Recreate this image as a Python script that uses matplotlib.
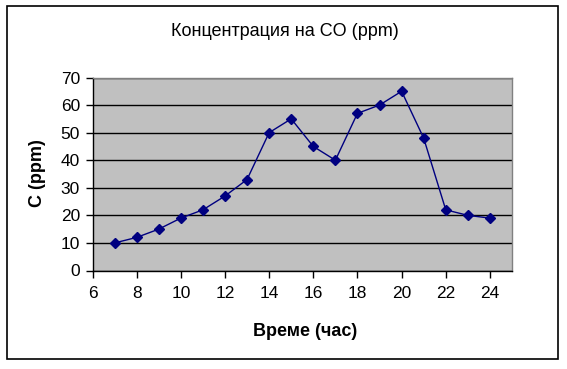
import matplotlib
matplotlib.use("Agg")
import matplotlib.pyplot as plt
from matplotlib.patches import Rectangle

hours = [7, 8, 9, 10, 11, 12, 13, 14, 15, 16, 17, 18, 19, 20, 21, 22, 23, 24]
co_ppm = [10, 12, 15, 19, 22, 27, 33, 50, 55, 45, 40, 57, 60, 65, 48, 22, 20, 19]
x_ticks = [6, 8, 10, 12, 14, 16, 18, 20, 22, 24]
y_ticks = [0, 10, 20, 30, 40, 50, 60, 70]

plt.rcParams['font.family'] = ['Liberation Sans', 'DejaVu Sans']

W, H = 567, 369
fig = plt.figure(figsize=(W / 100, H / 100), dpi=100)
fig.patch.set_facecolor('white')

# outer chart frame
fig.add_artist(Rectangle((6.5 / W, 1 - 359 / H), (558 - 6.5) / W, (359 - 6) / H,
                         transform=fig.transFigure, fill=False, edgecolor='black', linewidth=1.2))

left, right, top, bottom = 92.5, 512, 77.5, 270.5
ax = fig.add_axes([left / W, 1 - bottom / H, (right - left) / W, (bottom - top) / H])
ax.set_facecolor('#c0c0c0')
ax.set_xlim(6, 25)
ax.set_ylim(0, 70)
ax.set_xticks(x_ticks)
ax.set_yticks(y_ticks)
ax.yaxis.grid(True, color='black', linewidth=1)
ax.set_axisbelow(True)
for s in ['top', 'right']:
    ax.spines[s].set_color('#808080')
    ax.spines[s].set_linewidth(1)
for s in ['left', 'bottom']:
    ax.spines[s].set_color('black')
    ax.spines[s].set_linewidth(1)
ax.tick_params(axis='both', direction='out', length=5, width=1, labelsize=12.5, pad=4)
ax.tick_params(axis='x', pad=6)

ax.plot(hours, co_ppm, color='#000080', linewidth=1, marker='D', markersize=5,
        markerfacecolor='#000080', markeredgecolor='#000080', clip_on=False)

fig.text(285 / W, 1 - 31 / H, 'Концентрация на CO (ppm)', ha='center', va='center', fontsize=13)
fig.text(305 / W, 1 - 331 / H, 'Време (час)', ha='center', va='center', fontsize=13, fontweight='bold')
fig.text(37 / W, 1 - 173 / H, 'C (ppm)', ha='center', va='center', fontsize=13, fontweight='bold', rotation=90)

fig.savefig('out.png', dpi=100)
